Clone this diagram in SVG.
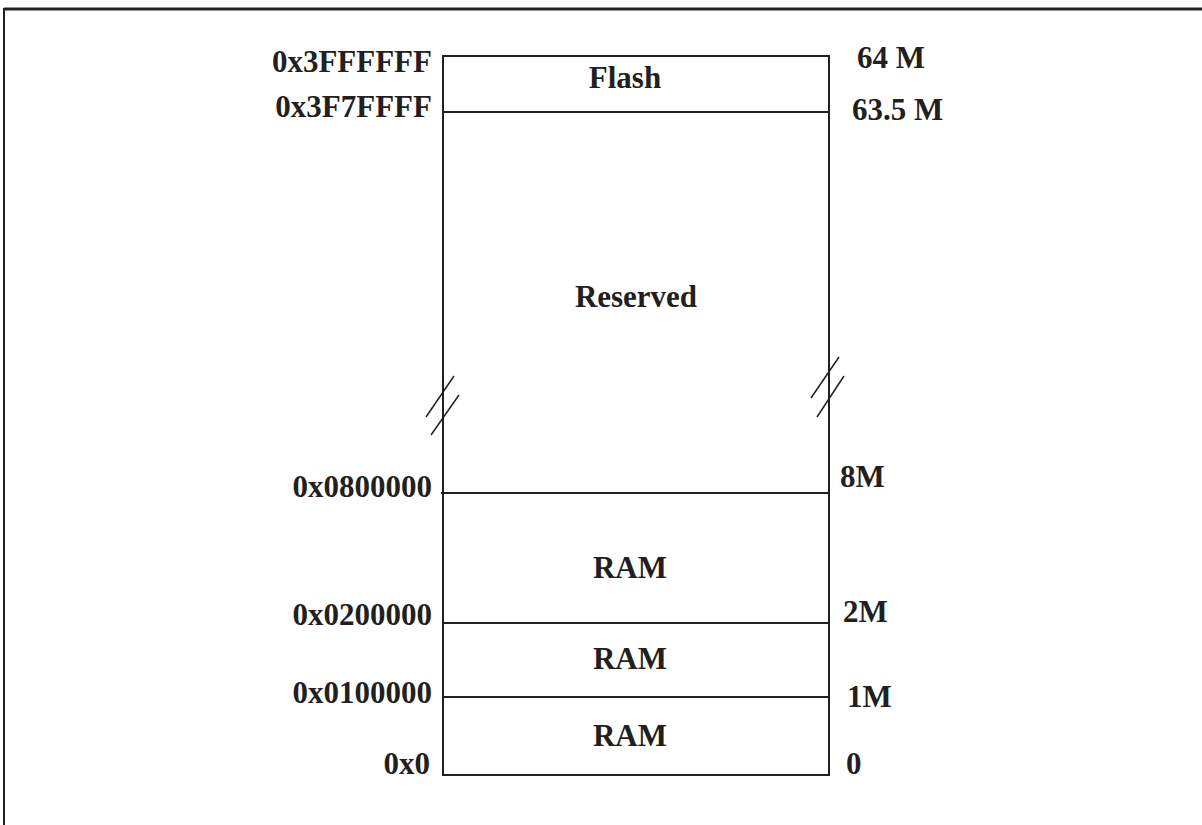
<svg xmlns="http://www.w3.org/2000/svg" width="1202" height="825" viewBox="0 0 1202 825">
<style>
.t{font-family:"Liberation Serif","Times New Roman",serif;font-weight:bold;font-size:31px;fill:#231f20}
.l{text-anchor:end}
.c{text-anchor:middle}
.ln{stroke:#231f20;stroke-width:2;fill:none}
.sl{stroke:#231f20;stroke-width:1.5;fill:none}
</style>
<rect width="1202" height="825" fill="#fff"/>
<g id="frame">
<line x1="4" y1="9" x2="1202" y2="9" stroke="#231f20" stroke-width="3"/>
<line x1="4" y1="8" x2="4" y2="825" stroke="#231f20" stroke-width="2"/>
</g>
<g id="box">
<path class="ln" d="M443,825 M443,56 H829 V775 H443 Z"/>
</g>
<g id="connectors">
<line class="ln" x1="443" y1="112" x2="829" y2="112"/>
<line class="ln" x1="441" y1="493" x2="829" y2="493"/>
<line class="ln" x1="443" y1="623" x2="829" y2="623"/>
<line class="ln" x1="443" y1="697" x2="829" y2="697"/>
<line class="sl" x1="426" y1="417" x2="454" y2="376"/>
<line class="sl" x1="431" y1="435" x2="459" y2="395"/>
<line class="sl" x1="811" y1="398" x2="839" y2="357"/>
<line class="sl" x1="817" y1="417" x2="844" y2="376"/>
</g>
<g id="flash"><text class="t c" x="625" y="88">Flash</text></g>
<g id="reserved"><text class="t c" x="636" y="307">Reserved</text></g>
<g id="ram3"><text class="t c" x="630" y="578">RAM</text></g>
<g id="ram2"><text class="t c" x="630" y="669">RAM</text></g>
<g id="ram1"><text class="t c" x="630" y="746">RAM</text></g>
<g id="left-labels">
<text class="t l" x="432" y="72">0x3FFFFFF</text>
<text class="t l" x="432" y="117">0x3F7FFFF</text>
<text class="t l" x="432" y="497">0x0800000</text>
<text class="t l" x="432" y="625">0x0200000</text>
<text class="t l" x="432" y="703">0x0100000</text>
<text class="t l" x="430" y="774">0x0</text>
</g>
<g id="right-labels">
<text class="t" x="857" y="68">64 M</text>
<text class="t" x="852" y="120">63.5 M</text>
<text class="t" x="840" y="487">8M</text>
<text class="t" x="843" y="622">2M</text>
<text class="t" x="847" y="707">1M</text>
<text class="t" x="846" y="774">0</text>
</g>
</svg>
